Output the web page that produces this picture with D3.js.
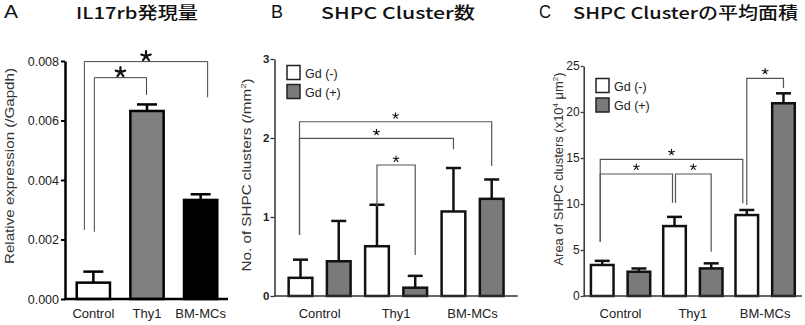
<!DOCTYPE html>
<html><head><meta charset="utf-8">
<script src="https://cdn.jsdelivr.net/npm/d3@7"></script>
<style>
html,body{margin:0;padding:0;background:#fff;}
svg{display:block;}
text{font-family:"Liberation Sans",Arial,sans-serif;}
.title{font-family:"Noto Sans CJK JP","Liberation Sans",sans-serif;font-weight:500;}
</style></head>
<body>
<svg id="chart" width="805" height="325"></svg>
<script>
// ---------- DATA ----------
const panelTitles = ["IL17rb発現量", "SHPC Cluster数", "SHPC Clusterの平均面積"];
const panelLetters = ["A", "B", "C"];
const categories = ["Control", "Thy1", "BM-MCs"];
const seriesNames = ["Gd (-)", "Gd (+)"];

// Panel A
const aValues = [0.00055, 0.00632, 0.00333];
const aErrors = [0.00037, 0.00022, 0.00019];
const aTicks = [0, 0.002, 0.004, 0.006, 0.008];
const aTickLabels = ["0.000", "0.002", "0.004", "0.006", "0.008"];
// brackets: [from cat, to cat, level, left leg end, right leg end]
const aBrackets = [[0, 2, 0.00798, 0.00232, 0.00678], [0, 1, 0.00744, 0.00226, 0.00686]];

// Panel B
const bGdMinus = [0.23, 0.63, 1.07];
const bGdPlus = [0.44, 0.105, 1.23];
const bErrMinus = [0.23, 0.525, 0.55];
const bErrPlus = [0.51, 0.15, 0.245];
const bTicks = [0, 1, 2, 3];
const bTickLabels = ["0", "1", "2", "3"];
// brackets: [cat, series, cat, series, level, leftEnd, rightEnd]
const bBrackets = [[0, 0, 2, 1, 2.206, 0.772, 1.646], [0, 0, 2, 0, 1.996, 0.772, 1.857], [1, 0, 1, 1, 1.658, 1.13, 0.519]];

// Panel C
const cGdMinus = [3.37, 7.6, 8.8];
const cGdPlus = [2.64, 3.0, 20.95];
const cErrMinus = [0.45, 1.0, 0.55];
const cErrPlus = [0.35, 0.55, 1.08];
const cTicks = [0, 5, 10, 15, 20, 25];
const cTickLabels = ["0", "5", "10", "15", "20", "25"];
const cBrackets = [[0, 0, 2, 0, 14.86, 5.9, 10.08], [0, 0, 1, 0, 13.26, 5.9, 10.14], [1, 0, 1, 1, 13.26, 10.1, 4.8], [2, 0, 2, 1, 23.66, 9.9, 22.6]];

// ---------- DRAW ----------
const svg = d3.select("#chart");

// Titles
const titleX = [[4, 76, 198], [271, 321, 475], [539, 573, 798]];
panelLetters.forEach((L, i) => {
  svg.append("text").attr("x", titleX[i][0]).attr("y", 17.5)
    .attr("font-size", 18).attr("fill", "#111")
    .attr("textLength", L === "A" ? 14 : 12).attr("lengthAdjust", "spacingAndGlyphs").text(L);
  svg.append("text").attr("class", "title").attr("x", titleX[i][1]).attr("y", 19.3)
    .attr("font-size", 16.5).attr("fill", "#111")
    .attr("textLength", titleX[i][2] - titleX[i][1]).attr("lengthAdjust", "spacingAndGlyphs")
    .text(panelTitles[i]);
});

function bracket(g, x1, x2, yLevel, yL, yR, color, sw) {
  g.append("path")
    .attr("d", `M${x1},${yL}V${yLevel}H${x2}V${yR}`)
    .attr("fill", "none").attr("stroke", color).attr("stroke-width", sw);
}
function star(g, x, y, r, sw) {
  let d = "";
  for (let k = 0; k < 5; k++) {
    const a = -Math.PI / 2 + k * 2 * Math.PI / 5;
    d += `M${x},${y}L${x + r * Math.cos(a)},${y + r * Math.sin(a)}`;
  }
  g.append("path").attr("d", d).attr("stroke", "#111").attr("stroke-width", sw)
    .attr("stroke-linecap", "round").attr("fill", "none");
}

// ===== Panel A =====
{
  const g = svg.append("g");
  const y = d3.scaleLinear().domain([0, 0.008]).range([299, 61]);
  const x = d3.scaleBand().domain(categories).range([66, 228]).paddingInner(0.38).paddingOuter(0.2);
  const fills = ["#ffffff", "#808080", "#000000"];
  g.selectAll("rect.bar").data(categories).join("rect")
    .attr("x", d => x(d)).attr("width", x.bandwidth())
    .attr("y", (d, i) => y(aValues[i])).attr("height", (d, i) => y(0) - y(aValues[i]))
    .attr("fill", (d, i) => fills[i]).attr("stroke", "#000").attr("stroke-width", 2.5);
  categories.forEach((c, i) => {
    const cx = x(c) + x.bandwidth() / 2;
    const top = y(aValues[i] + aErrors[i]);
    g.append("line").attr("x1", cx).attr("x2", cx).attr("y1", y(aValues[i])).attr("y2", top)
      .attr("stroke", "#000").attr("stroke-width", 2.5);
    g.append("line").attr("x1", cx - 10).attr("x2", cx + 10).attr("y1", top).attr("y2", top)
      .attr("stroke", "#000").attr("stroke-width", 2.5);
  });
  const ya = g.append("g").attr("transform", "translate(65,0)")
    .call(d3.axisLeft(y).tickValues(aTicks).tickFormat((d, i) => aTickLabels[i]).tickSize(4).tickPadding(2).tickSizeOuter(0));
  ya.select(".domain").attr("stroke-width", 2.5).attr("stroke", "#000");
  ya.selectAll(".tick line").attr("stroke-width", 2).attr("stroke", "#000");
  ya.selectAll(".tick text").attr("font-size", 12.5).attr("fill", "#222").attr("font-family", "Liberation Sans");
  g.append("line").attr("x1", 64).attr("x2", 228).attr("y1", 299).attr("y2", 299)
    .attr("stroke", "#000").attr("stroke-width", 2.5);
  g.selectAll("text.cat").data(categories).join("text").attr("class", "cat")
    .attr("x", d => x(d) + x.bandwidth() / 2).attr("y", 318).attr("text-anchor", "middle")
    .attr("font-size", 13).attr("fill", "#222").text(d => d);
  g.append("text").attr("transform", "translate(14,166) rotate(-90)").attr("text-anchor", "middle")
    .attr("font-size", 13.5).attr("fill", "#333")
    .attr("textLength", 196).attr("lengthAdjust", "spacingAndGlyphs")
    .text("Relative expression (/Gapdh)");
  const offs = [[-9, 7], [1, -0.5]];
  aBrackets.forEach((b, k) => {
    const x1 = x(categories[b[0]]) + x.bandwidth() / 2 + offs[k][0];
    const x2 = x(categories[b[1]]) + x.bandwidth() / 2 + offs[k][1];
    bracket(g, x1, x2, y(b[2]), y(b[3]), y(b[4]), "#444", 1);
    star(g, (x1 + x2) / 2, y(b[2]) - 5.5, 5, 2.2);
  });
}

// ===== Grouped panels =====
function groupedPanel(opts) {
  const g = svg.append("g");
  const y = d3.scaleLinear().domain(opts.domain).range([296, opts.yTop]);
  const x0 = d3.scaleBand().domain(categories).range(opts.xr).paddingInner(opts.pi).paddingOuter(opts.po);
  const x1 = d3.scaleBand().domain(seriesNames).range([0, x0.bandwidth()]).paddingInner(opts.spi).paddingOuter(0);
  const fills = ["#ffffff", "#7a7a7a"];
  const vals = [opts.minus, opts.plus];
  const errs = [opts.errMinus, opts.errPlus];
  const barCenter = (ci, si) => x0(categories[ci]) + x1(seriesNames[si]) + x1.bandwidth() / 2;
  seriesNames.forEach((s, si) => {
    g.selectAll("rect.s" + si).data(categories).join("rect")
      .attr("x", d => x0(d) + x1(s)).attr("width", x1.bandwidth())
      .attr("y", (d, i) => y(vals[si][i])).attr("height", (d, i) => y(0) - y(vals[si][i]))
      .attr("fill", fills[si]).attr("stroke", "#111").attr("stroke-width", 2.5);
    categories.forEach((c, ci) => {
      const cx = barCenter(ci, si);
      const top = y(vals[si][ci] + errs[si][ci]);
      g.append("line").attr("x1", cx).attr("x2", cx).attr("y1", y(vals[si][ci])).attr("y2", top)
        .attr("stroke", "#111").attr("stroke-width", 2.5);
      g.append("line").attr("x1", cx - 7.5).attr("x2", cx + 7.5).attr("y1", top).attr("y2", top)
        .attr("stroke", "#111").attr("stroke-width", 2.5);
    });
  });
  const ya = g.append("g").attr("transform", `translate(${opts.xr[0]},0)`)
    .call(d3.axisLeft(y).tickValues(opts.ticks).tickFormat((d, i) => opts.tickLabels[i]).tickSize(opts.tickSize).tickPadding(1).tickSizeOuter(0));
  ya.select(".domain").attr("stroke-width", 1.5).attr("stroke", "#333");
  ya.selectAll(".tick line").attr("stroke-width", 1.3).attr("stroke", "#333");
  ya.selectAll(".tick text").attr("font-size", opts.tickFont).attr("font-weight", opts.tickWeight)
    .attr("fill", "#222").attr("font-family", "Liberation Sans");
  g.append("line").attr("x1", opts.xr[0]).attr("x2", opts.xr[1]).attr("y1", 296).attr("y2", 296)
    .attr("stroke", "#333").attr("stroke-width", 1.6);
  g.selectAll("text.cat").data(categories).join("text").attr("class", "cat")
    .attr("x", d => x0(d) + x0.bandwidth() / 2).attr("y", 318).attr("text-anchor", "middle")
    .attr("font-size", 13).attr("fill", "#222").text(d => d);
  const yl = g.append("text").attr("transform", `translate(${opts.ylx},${opts.yly}) rotate(-90)`)
    .attr("text-anchor", "middle").attr("font-size", 13).attr("fill", "#333")
    .attr("textLength", opts.ylLen).attr("lengthAdjust", "spacingAndGlyphs");
  opts.ylabel(yl);
  seriesNames.forEach((s, si) => {
    g.append("rect").attr("x", opts.lx).attr("y", opts.ly + si * opts.lstep).attr("width", 13).attr("height", 14)
      .attr("fill", fills[si]).attr("stroke", "#222").attr("stroke-width", 1.5);
    g.append("text").attr("x", opts.lx + 18).attr("y", opts.ly + si * opts.lstep + 12)
      .attr("font-size", 12.5).attr("fill", "#222").text(s);
  });
  opts.brackets.forEach((b, k) => {
    const off = opts.bOffsets[k];
    const xa = barCenter(b[0], b[1]) + off[0];
    const xb = barCenter(b[2], b[3]) + off[1];
    bracket(g, xa, xb, y(b[4]), y(b[5]), y(b[6]), "#555", 1.2);
    star(g, (xa + xb) / 2, y(b[4]) - opts.starDy, 3, 1.1);
  });
}

groupedPanel({
  domain: [0, 3], yTop: 59, xr: [274.5, 517.7], pi: 0.19, po: 0.185, spi: 0.38,
  minus: bGdMinus, plus: bGdPlus, errMinus: bErrMinus, errPlus: bErrPlus,
  ticks: bTicks, tickLabels: bTickLabels, tickSize: 4, tickFont: 11.5, tickWeight: "bold",
  ylx: 251, yly: 175, ylLen: 193,
  ylabel: t => { t.append("tspan").text("No. of SHPC clusters (/mm"); t.append("tspan").attr("font-size", 8).attr("dy", -5).text("2"); t.append("tspan").attr("dy", 5).text(")"); },
  lx: 287, ly: 65.5, lstep: 19,
  brackets: bBrackets, bOffsets: [[-1, 0], [-1, 0], [0, 0]], starDy: 6
});

groupedPanel({
  domain: [0, 25], yTop: 66, xr: [583.7, 802], pi: 0.18, po: 0.1, spi: 0.384,
  minus: cGdMinus, plus: cGdPlus, errMinus: cErrMinus, errPlus: cErrPlus,
  ticks: cTicks, tickLabels: cTickLabels, tickSize: 3, tickFont: 12, tickWeight: "normal",
  ylx: 563, yly: 169, ylLen: 193,
  ylabel: t => {
    t.append("tspan").text("Area of SHPC clusters (x10");
    t.append("tspan").attr("font-size", 8).attr("dy", -5).text("4");
    t.append("tspan").attr("dy", 5).text(" μm");
    t.append("tspan").attr("font-size", 8).attr("dy", -5).text("2");
    t.append("tspan").attr("dy", 5).text(")");
  },
  lx: 596, ly: 78.5, lstep: 19.5,
  brackets: cBrackets, bOffsets: [[-2, -4], [-2, -2], [1, 0], [0, 0]], starDy: 7
});
</script>
</body></html>
